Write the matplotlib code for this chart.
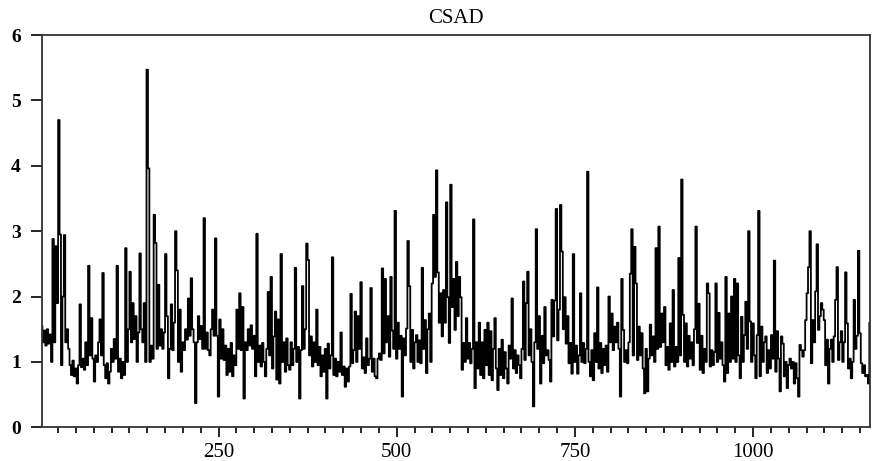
import numpy as np
import matplotlib.pyplot as plt
from matplotlib.ticker import MultipleLocator

csad = [
    1.55, 1.30, 1.48, 1.25, 1.50, 1.28, 1.42, 1.00, 2.88, 1.30,
    2.77, 1.90, 4.70, 2.95, 0.95, 2.00, 2.94, 1.30, 1.50, 1.20,
    0.95, 0.80, 1.02, 0.78, 0.90, 0.67, 0.95, 1.88, 0.92, 1.05,
    0.88, 1.30, 0.95, 2.47, 1.10, 1.67, 1.05, 0.70, 1.10, 1.00,
    1.30, 1.65, 1.10, 2.36, 0.95, 0.75, 0.98, 0.67, 0.85, 1.20,
    1.00, 1.35, 1.05, 2.47, 0.85, 1.05, 0.75, 1.00, 0.80, 2.74,
    1.00, 1.50, 2.38, 1.30, 1.90, 1.35, 1.70, 1.00, 1.45, 2.66,
    1.50, 1.30, 1.90, 1.00, 5.47, 3.96, 1.00, 1.25, 1.05, 3.25,
    2.82, 1.20, 2.18, 1.25, 1.50, 1.20, 1.45, 2.65, 1.70, 0.75,
    1.20, 1.88, 1.18, 1.60, 3.00, 2.40, 1.00, 1.80, 0.85, 1.30,
    1.18, 1.50, 1.34, 1.97, 1.40, 2.28, 1.50, 1.30, 0.37, 1.30,
    1.70, 1.35, 1.55, 1.20, 3.20, 1.20, 1.45, 1.18, 1.10, 1.50,
    1.80, 1.40, 2.89, 1.40, 0.47, 1.65, 1.05, 1.50, 1.03, 1.25,
    0.80, 1.20, 0.85, 1.29, 0.78, 1.10, 0.95, 1.80, 1.20, 2.05,
    1.18, 1.84, 0.44, 1.30, 1.18, 1.50, 1.25, 1.56, 1.20, 1.40,
    0.78, 2.96, 1.00, 1.25, 0.93, 1.29, 1.00, 0.78, 1.20, 2.07,
    1.10, 2.30, 0.90, 1.39, 1.77, 0.73, 1.65, 0.67, 2.65, 1.00,
    1.30, 0.85, 1.36, 0.95, 0.88, 1.30, 0.95, 1.20, 2.44, 1.00,
    1.23, 0.44, 1.18, 2.16, 1.20, 1.50, 2.81, 2.56, 1.10, 1.39,
    0.93, 1.30, 1.00, 1.80, 0.95, 1.23, 0.78, 1.10, 0.85, 1.20,
    0.44, 1.28, 0.90, 1.10, 2.60, 0.80, 1.05, 0.78, 1.00, 0.85,
    1.45, 0.80, 0.93, 0.62, 0.90, 0.70, 0.93, 2.04, 0.98, 1.18,
    1.77, 1.00, 1.70, 1.20, 2.22, 0.90, 1.07, 0.83, 1.36, 0.95,
    1.05, 2.13, 0.85, 1.05, 0.78, 0.75, 1.05, 1.13, 1.03, 2.43,
    1.13, 2.27, 1.30, 1.70, 1.08, 2.30, 1.48, 1.20, 3.31, 1.05,
    1.60, 1.20, 1.40, 0.47, 1.36, 1.10, 1.51, 2.85, 2.16, 1.00,
    1.49, 0.90, 1.30, 1.41, 1.00, 1.33, 0.98, 2.44, 1.20, 1.64,
    0.83, 1.50, 1.74, 1.00, 2.20, 3.25, 2.30, 3.93, 2.37, 1.60,
    2.05, 1.39, 2.10, 1.60, 3.44, 1.99, 1.29, 3.71, 1.84, 2.27,
    1.49, 2.53, 1.70, 2.30, 1.99, 0.88, 1.29, 1.00, 1.67, 1.05,
    1.29, 0.98, 1.20, 3.18, 0.60, 1.30, 0.90, 1.60, 0.80, 1.30,
    0.75, 1.49, 0.95, 1.60, 0.80, 1.47, 0.72, 1.20, 1.67, 0.90,
    0.57, 1.20, 0.80, 1.34, 0.75, 1.15, 0.90, 0.67, 1.25, 1.05,
    1.97, 0.90, 1.18, 0.83, 1.10, 0.95, 0.75, 1.20, 2.23, 1.03,
    1.90, 2.38, 1.10, 1.50, 1.00, 0.32, 1.30, 3.03, 1.20, 1.70,
    0.67, 1.40, 0.98, 1.84, 1.10, 1.18, 1.03, 0.70, 1.95, 1.39,
    1.94, 3.34, 1.33, 1.80, 3.40, 2.69, 1.50, 1.99, 1.28, 1.70,
    0.98, 1.29, 0.82, 2.65, 1.00, 1.25, 0.82, 1.10, 2.05, 1.00,
    1.29, 0.98, 1.20, 3.91, 1.00, 0.78, 1.18, 0.72, 1.44, 1.00,
    2.14, 0.90, 1.29, 0.83, 1.20, 0.95, 1.25, 0.85, 2.00, 1.30,
    1.74, 1.18, 1.54, 1.30, 1.60, 1.20, 0.47, 2.27, 1.49, 1.00,
    1.18, 0.98, 1.30, 2.35, 3.03, 1.10, 2.76, 2.20, 1.03, 1.54,
    1.10, 1.44, 0.90, 0.52, 1.20, 0.55, 1.05, 1.57, 1.10, 1.39,
    1.00, 2.74, 1.20, 3.07, 1.23, 1.74, 1.30, 1.84, 0.95, 1.23,
    0.88, 1.59, 1.00, 2.10, 0.93, 1.23, 1.00, 2.59, 1.10, 3.79,
    1.72, 1.00, 1.59, 0.93, 1.40, 1.05, 1.30, 0.95, 1.50, 3.07,
    1.29, 1.89, 0.88, 1.40, 0.83, 1.20, 1.00, 2.20, 2.05, 0.93,
    1.18, 0.95, 1.15, 2.20, 1.00, 1.75, 1.05, 1.30, 0.95, 0.70,
    2.30, 0.83, 1.74, 1.00, 2.00, 1.05, 2.27, 1.00, 2.20, 1.10,
    0.75, 1.69, 1.00, 1.41, 1.92, 1.20, 3.00, 1.62, 1.00, 1.59,
    1.10, 0.75, 1.41, 3.31, 0.78, 1.54, 1.00, 1.30, 1.39, 0.83,
    1.18, 0.90, 1.41, 1.05, 2.55, 0.85, 1.47, 1.05, 0.55, 1.39,
    1.28, 0.78, 1.00, 0.60, 0.95, 1.05, 0.90, 1.00, 0.67, 0.98,
    0.75, 0.47, 1.26, 1.18, 1.08, 1.18, 1.64, 2.05, 2.45, 3.00,
    0.98, 1.64, 1.30, 2.08, 2.80, 1.49, 1.70, 1.90, 1.80, 1.64,
    0.95, 1.34, 0.67, 1.20, 1.34, 1.00, 1.39, 1.95, 2.45, 1.03,
    1.30, 1.47, 1.00, 1.30, 2.37, 1.59, 0.90, 1.05, 0.75, 1.00,
    1.95, 1.20, 1.40, 2.70, 1.44, 0.98, 0.83, 0.95, 0.78, 0.80,
    0.67, 1.60,
]
obs = np.arange(2, 2 + 2 * len(csad), 2)

fig = plt.figure(figsize=(8.73, 4.61), dpi=100)
ax = fig.add_axes([0.0478, 0.0731, 0.9488, 0.8509])

# the original is drawn as dense vertical steps, so steps-mid gives the blocky look
ax.plot(obs, csad, color='black', lw=1.3, drawstyle='steps-mid')

ax.set_xlim(2, 1164)
ax.set_ylim(0, 6)
ax.set_xticks([250, 500, 750, 1000])
ax.xaxis.set_minor_locator(MultipleLocator(25))
ax.set_yticks(range(7))

ax.tick_params(axis='x', which='major', direction='out', length=7, width=1.2,
               labelsize=15, pad=4)
ax.tick_params(axis='x', which='minor', direction='out', length=4, width=1.2)
ax.tick_params(axis='y', which='major', direction='out', length=8, width=1.2,
               labelsize=14, pad=7)
for lab in ax.get_xticklabels():
    lab.set_family('Liberation Serif')
for lab in ax.get_yticklabels():
    lab.set_family('Liberation Serif')
    lab.set_fontweight('bold')

for s in ax.spines.values():
    s.set_linewidth(1.3)
    s.set_color('#333333')

ax.set_title('CSAD', family='Liberation Serif', fontsize=15, pad=9)

fig.savefig('out.png', dpi=100)
